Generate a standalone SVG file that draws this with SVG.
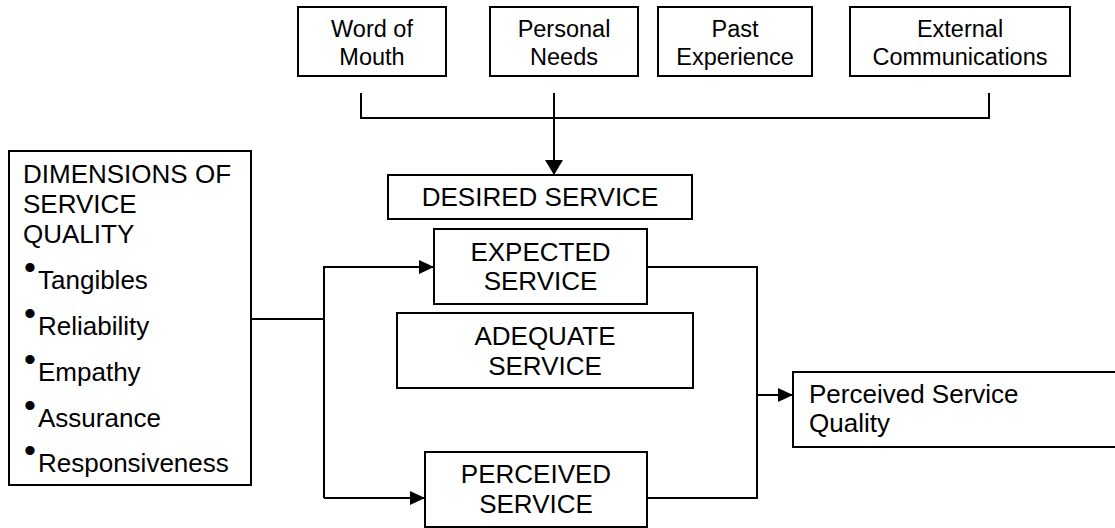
<svg xmlns="http://www.w3.org/2000/svg" width="1115" height="528" viewBox="0 0 1115 528">
<style>
.box{fill:#fff;stroke:#000;stroke-width:2}
.t{font-family:"Liberation Sans",Arial,sans-serif;font-size:26px;fill:#000}
.ts{font-family:"Liberation Sans",Arial,sans-serif;font-size:23.5px;fill:#000;text-anchor:middle}
.c{text-anchor:middle}
.b{font-size:34px}
.ln{fill:none;stroke:#000;stroke-width:2}
</style>
<defs>
<marker id="ah" markerWidth="16" markerHeight="14" refX="15" refY="7" orient="auto" markerUnits="userSpaceOnUse">
<path d="M0,0 L15,7 L0,14 Z" fill="#000"/>
</marker>
<marker id="ahd" markerWidth="16" markerHeight="18" refX="15" refY="9" orient="auto" markerUnits="userSpaceOnUse">
<path d="M0,0 L15,9 L0,18 Z" fill="#000"/>
</marker>
</defs>
<g id="connectors">
<path class="ln" d="M361,93 V118 H989 V93"/>
<path class="ln" d="M554,93 V175" stroke-width="2.5" marker-end="url(#ahd)"/>
<path class="ln" d="M251,319 H324"/>
<path class="ln" d="M324,498 V267 H434" marker-end="url(#ah)"/>
<path class="ln" d="M324,498 H425" marker-end="url(#ah)"/>
<path class="ln" d="M647,267 H757 V498 H647"/>
<path class="ln" d="M757,395 H793" marker-end="url(#ah)"/>
</g>
<g id="word-of-mouth">
<rect class="box" x="298" y="7" width="148" height="69"/>
<text class="ts" x="372" y="37">Word of</text>
<text class="ts" x="372" y="65">Mouth</text>
</g>
<g id="personal-needs">
<rect class="box" x="490" y="7" width="148" height="69"/>
<text class="ts" x="564" y="37">Personal</text>
<text class="ts" x="564" y="65">Needs</text>
</g>
<g id="past-experience">
<rect class="box" x="658" y="7" width="154" height="69"/>
<text class="ts" x="735" y="37">Past</text>
<text class="ts" x="735" y="65">Experience</text>
</g>
<g id="external-communications">
<rect class="box" x="850" y="7" width="220" height="69"/>
<text class="ts" x="960" y="37">External</text>
<text class="ts" x="960" y="65">Communications</text>
</g>
<g id="desired-service">
<rect class="box" x="388" y="175" width="304" height="44"/>
<text class="t c" x="540" y="206">DESIRED SERVICE</text>
</g>
<g id="expected-service">
<rect class="box" x="434" y="229" width="213" height="75"/>
<text class="t c" x="540.5" y="261">EXPECTED</text>
<text class="t c" x="540.5" y="290">SERVICE</text>
</g>
<g id="adequate-service">
<rect class="box" x="397" y="313" width="296" height="75"/>
<text class="t c" x="545" y="345">ADEQUATE</text>
<text class="t c" x="545" y="375">SERVICE</text>
</g>
<g id="perceived-service">
<rect class="box" x="425" y="452" width="222" height="75"/>
<text class="t c" x="536" y="483">PERCEIVED</text>
<text class="t c" x="536" y="513">SERVICE</text>
</g>
<g id="dimensions">
<rect class="box" x="9" y="151" width="242" height="334"/>
<text class="t" x="23" y="183">DIMENSIONS OF</text>
<text class="t" x="23" y="213">SERVICE</text>
<text class="t" x="23" y="243">QUALITY</text>
<text class="t" x="24" y="289"><tspan class="b" dy="-10">•</tspan><tspan x="38" dy="10">Tangibles</tspan></text>
<text class="t" x="24" y="335"><tspan class="b" dy="-10">•</tspan><tspan x="38" dy="10">Reliability</tspan></text>
<text class="t" x="24" y="381"><tspan class="b" dy="-10">•</tspan><tspan x="38" dy="10">Empathy</tspan></text>
<text class="t" x="24" y="427"><tspan class="b" dy="-10">•</tspan><tspan x="38" dy="10">Assurance</tspan></text>
<text class="t" x="24" y="472"><tspan class="b" dy="-10">•</tspan><tspan x="38" dy="10">Responsiveness</tspan></text>
</g>
<g id="perceived-service-quality">
<rect class="box" x="793" y="372" width="330" height="75"/>
<text class="t" x="809" y="403">Perceived Service</text>
<text class="t" x="809" y="432">Quality</text>
</g>
</svg>
